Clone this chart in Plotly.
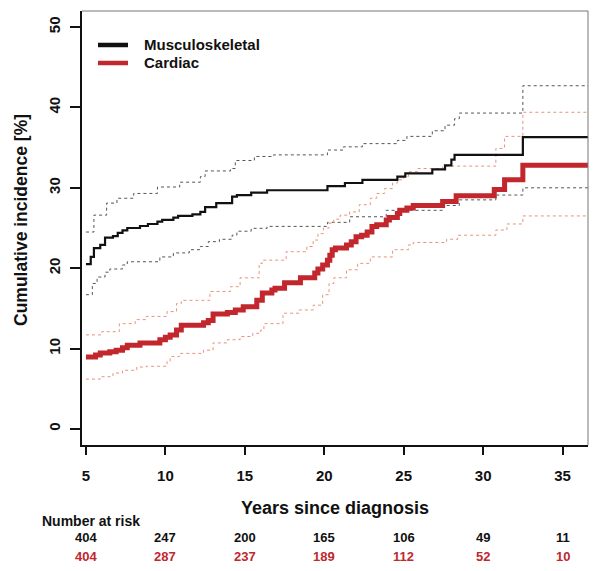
import plotly.graph_objects as go

# step curves: time of each step (years) and cumulative incidence (%)
mus_t = [5.0, 5.3, 5.5, 5.9, 6.2, 6.7, 7.0, 7.3, 7.6, 8.4, 8.9, 9.5, 9.8, 10.5, 10.8, 11.7,
         12.2, 12.5, 13.2, 14.2, 14.5, 15.4, 16.4, 20.2, 21.3, 22.4, 24.6, 25.1, 26.8, 27.6,
         28.0, 28.2, 32.5, 36.6]
mus_v = [20.5, 21.4, 22.5, 22.9, 23.8, 24.0, 24.4, 24.7, 25.0, 25.25, 25.5, 25.8, 26.0, 26.3,
         26.5, 26.7, 27.0, 27.6, 28.1, 28.9, 29.1, 29.4, 29.7, 30.2, 30.6, 31.0, 31.4, 31.8,
         32.3, 32.8, 33.5, 34.1, 36.3, 36.3]

mus_hi_t = [5.0, 5.5, 6.3, 6.95, 8.0, 9.5, 10.9, 12.2, 12.5, 14.1, 14.4, 15.6, 16.8, 20.2,
            21.2, 22.4, 24.6, 25.2, 26.8, 27.6, 28.2, 28.5, 32.5, 36.6]
mus_hi_v = [24.5, 26.6, 28.1, 28.7, 29.3, 30.1, 30.7, 31.4, 32.1, 32.4, 33.4, 33.9, 34.1, 34.7,
            35.1, 35.5, 35.9, 36.4, 37.1, 37.8, 38.6, 39.3, 42.7, 42.7]

mus_lo_t = [5.0, 5.4, 5.7, 6.2, 6.5, 7.3, 7.6, 9.65, 10.5, 11.5, 12.2, 12.7, 13.4, 14.2, 14.5,
            15.4, 16.4, 20.2, 21.6, 23.9, 27.5, 28.5, 30.8, 32.5, 36.6]
mus_lo_v = [16.7, 18.1, 18.9, 19.5, 19.9, 20.4, 20.8, 21.4, 21.9, 22.3, 22.7, 23.3, 23.6, 24.1,
            24.6, 24.96, 25.2, 25.7, 26.4, 27.2, 27.8, 28.5, 29.1, 30.0, 30.0]

car_t = [5.0, 5.6, 5.9, 6.5, 6.9, 7.3, 7.6, 8.4, 9.65, 10.0, 10.3, 10.7, 11.0, 12.4, 12.7, 13.0,
         13.9, 14.4, 14.9, 15.75, 16.1, 16.7, 16.9, 17.5, 18.5, 19.4, 19.6, 19.9, 20.2, 20.35,
         20.5, 20.7, 21.4, 21.7, 22.0, 22.35, 22.7, 23.0, 23.3, 23.9, 24.1, 24.6, 24.75, 25.2,
         25.6, 27.45, 28.3, 30.7, 31.35, 32.5, 36.6]
car_v = [8.96, 9.2, 9.45, 9.6, 9.8, 10.1, 10.4, 10.7, 11.1, 11.4, 11.7, 12.3, 12.9, 13.2, 13.5,
         14.3, 14.5, 14.8, 15.2, 16.0, 16.9, 17.3, 17.5, 18.2, 18.8, 19.4, 19.9, 20.4, 21.0,
         21.6, 22.3, 22.5, 22.9, 23.3, 23.9, 24.1, 24.5, 25.2, 25.4, 26.0, 26.3, 26.8, 27.2,
         27.5, 27.8, 28.3, 29.0, 29.8, 31.0, 32.8, 32.8]

car_hi_t = [5.0, 6.0, 7.1, 8.1, 8.8, 10.1, 10.7, 11.0, 12.8, 14.1, 14.7, 15.9, 16.1, 17.6, 18.9,
            19.3, 19.6, 19.95, 20.3, 20.6, 21.0, 21.6, 22.2, 22.9, 23.3, 23.8, 24.3, 24.6, 25.0,
            25.3, 25.9, 27.45, 30.8, 31.35, 32.5, 36.6]
car_hi_v = [11.7, 12.1, 13.1, 13.6, 14.0, 14.6, 15.6, 16.0, 17.1, 17.7, 18.8, 20.6, 21.0, 22.05,
            22.7, 23.5, 24.3, 25.0, 25.6, 26.1, 26.6, 27.0, 27.9, 28.7, 29.3, 29.9, 30.6, 31.0,
            31.4, 32.0, 32.4, 32.7, 34.9, 36.4, 39.4, 39.4]

car_lo_t = [5.0, 5.9, 6.7, 7.3, 8.2, 8.8, 10.1, 10.3, 10.9, 12.4, 13.0, 13.9, 14.7, 15.5, 16.0,
            16.2, 17.4, 18.4, 19.3, 19.9, 20.3, 20.6, 21.4, 22.1, 22.9, 24.3, 25.3, 25.6, 27.7,
            28.4, 30.8, 31.5, 32.5, 36.6]
car_lo_v = [6.2, 6.5, 6.95, 7.3, 7.7, 7.8, 8.4, 9.0, 9.4, 9.8, 10.7, 11.1, 11.5, 11.9, 12.3,
            13.1, 14.4, 14.8, 15.4, 16.7, 18.1, 18.8, 19.8, 20.6, 21.4, 22.3, 22.9, 23.2, 23.6,
            24.1, 24.75, 25.5, 26.5, 26.5]

risk_years = [5, 10, 15, 20, 25, 30, 35]
risk_mus = [404, 247, 200, 165, 106, 49, 11]
risk_car = [404, 287, 237, 189, 112, 52, 10]

groups = ["Musculoskeletal", "Cardiac"]

BLACK = "#111111"
RED = "#c1272d"
FONT = "Liberation Sans, Arial, sans-serif"

fig = go.Figure()

# confidence bands first so main curves sit on top
fig.add_trace(go.Scatter(x=mus_hi_t, y=mus_hi_v, mode="lines", line_shape="hv",
                         line=dict(color="#555555", width=1, dash="3px,3px")))
fig.add_trace(go.Scatter(x=mus_lo_t, y=mus_lo_v, mode="lines", line_shape="hv",
                         line=dict(color="#555555", width=1, dash="3px,3px")))
fig.add_trace(go.Scatter(x=car_hi_t, y=car_hi_v, mode="lines", line_shape="hv",
                         line=dict(color="#e8937a", width=1, dash="3px,3px")))
fig.add_trace(go.Scatter(x=car_lo_t, y=car_lo_v, mode="lines", line_shape="hv",
                         line=dict(color="#e8937a", width=1, dash="3px,3px")))

fig.add_trace(go.Scatter(x=mus_t, y=mus_v, mode="lines", line_shape="hv", name=groups[0],
                         line=dict(color=BLACK, width=2.2)))
fig.add_trace(go.Scatter(x=car_t, y=car_v, mode="lines", line_shape="hv", name=groups[1],
                         line=dict(color=RED, width=5)))

# hand-made legend, R style (tight rows, thick key lines)
for i, (name, col) in enumerate(zip(groups, [BLACK, RED])):
    ly = 0.9217 - i * 0.0415
    fig.add_shape(type="line", xref="paper", yref="paper", x0=0.0316, x1=0.0909, y0=ly, y1=ly,
                  line=dict(color=col, width=4.5))
    fig.add_annotation(text=f"<b>{name}</b>", xref="paper", yref="paper", x=0.1186, y=ly,
                       xanchor="left", yanchor="middle", showarrow=False,
                       font=dict(family=FONT, size=15, color=BLACK))

# number at risk table
fig.add_annotation(text="<b>Number at risk</b>", xref="paper", yref="paper", x=-0.083, y=-0.174,
                   xanchor="left", yanchor="middle", showarrow=False,
                   font=dict(family=FONT, size=14, color=BLACK))
for yr, a, b in zip(risk_years, risk_mus, risk_car):
    fig.add_annotation(text=f"<b>{a}</b>", x=yr, xref="x", yref="paper", y=-0.214,
                       xanchor="center", yanchor="middle", showarrow=False,
                       font=dict(family=FONT, size=13, color=BLACK))
    fig.add_annotation(text=f"<b>{b}</b>", x=yr, xref="x", yref="paper", y=-0.256,
                       xanchor="center", yanchor="middle", showarrow=False,
                       font=dict(family=FONT, size=13, color=RED))

# axis titles
fig.add_annotation(text="<b>Years since diagnosis</b>", xref="paper", yref="paper", x=0.5, y=-0.145,
                   xanchor="center", yanchor="middle", showarrow=False,
                   font=dict(family=FONT, size=18, color=BLACK))
fig.add_annotation(text="<b>Cumulative incidence [%]</b>", xref="paper", yref="paper", x=-0.121, y=0.518,
                   textangle=-90, xanchor="center", yanchor="middle", showarrow=False,
                   font=dict(family=FONT, size=17.5, color=BLACK))

# top/right box edges
fig.add_shape(type="line", xref="paper", yref="paper", x0=0, x1=1, y0=1, y1=1,
              line=dict(color="#777777", width=1))
fig.add_shape(type="line", xref="paper", yref="paper", x0=1, x1=1, y0=0, y1=1,
              line=dict(color="#777777", width=1))

fig.update_layout(
    width=600, height=571,
    margin=dict(l=82, r=12, t=11, b=126),
    paper_bgcolor="white", plot_bgcolor="white",
    font=dict(family=FONT, color=BLACK),
    showlegend=False,
)
fig.update_xaxes(range=[4.75, 36.6], tickvals=risk_years, showgrid=False, zeroline=False,
                 showline=True, linecolor=BLACK, linewidth=1.5, ticks="outside", ticklen=8,
                 tickwidth=2, tickcolor=BLACK, ticklabelstandoff=8,
                 tickfont=dict(family=FONT, size=15, weight="bold"))
fig.update_yaxes(range=[-2, 52], tickvals=[0, 10, 20, 30, 40, 50], showgrid=False, zeroline=False,
                 showline=True, linecolor=BLACK, linewidth=1.5, ticks="outside", ticklen=10,
                 tickwidth=2, tickcolor=BLACK, tickangle=-90, ticklabelstandoff=4,
                 tickfont=dict(family=FONT, size=15, weight="bold"))

# drop the default body margin so the figure fills the window exactly
fig.write_html("out.html", config={"displayModeBar": False},
               post_script="document.body.style.margin='0';")
